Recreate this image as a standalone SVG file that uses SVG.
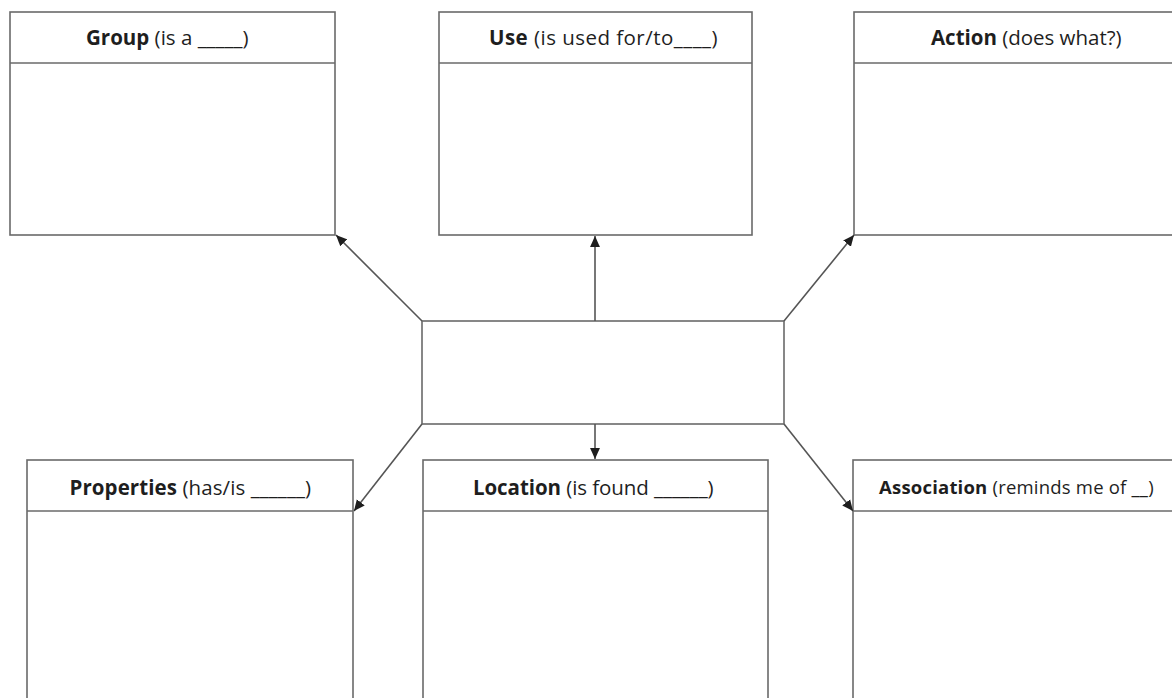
<svg xmlns="http://www.w3.org/2000/svg" width="1172" height="698" viewBox="0 0 1172 698">
<style>
.box{fill:#fff;stroke:#6a6a6a;stroke-width:1.6}
.div{stroke:#6a6a6a;stroke-width:1.6}
.lbl{font-family:"Open Sans","Liberation Sans",sans-serif;font-size:20.5px;fill:#1e1e1e;text-anchor:middle;letter-spacing:-0.6px}
.b{font-weight:700}
.conn{stroke:#555;stroke-width:1.6;fill:none;marker-end:url(#ah)}
</style>
<defs>
<marker id="ah" viewBox="0 0 10 10" refX="10" refY="5" markerWidth="11" markerHeight="11" markerUnits="userSpaceOnUse" orient="auto">
<path d="M0,0.5 L10,5 L0,9.5 z" fill="#1e1e1e"/>
</marker>
</defs>
<rect width="1172" height="698" fill="#fff"/>
<g id="group">
<rect class="box" x="10" y="12" width="325" height="223"/>
<line class="div" x1="10" y1="63" x2="335" y2="63"/>
<text class="lbl" x="167" y="45" textLength="162"><tspan class="b">Group</tspan> (is a _____)</text>
</g>
<g id="use">
<rect class="box" x="439" y="12" width="313" height="223"/>
<line class="div" x1="439" y1="63" x2="752" y2="63"/>
<text class="lbl" x="603" y="45" textLength="228"><tspan class="b">Use</tspan> (is used for/to____)</text>
</g>
<g id="action">
<rect class="box" x="854" y="12" width="330" height="223"/>
<line class="div" x1="854" y1="63" x2="1184" y2="63"/>
<text class="lbl" x="1026" y="45" textLength="190"><tspan class="b">Action</tspan> (does what?)</text>
</g>
<g id="center">
<rect class="box" x="422" y="321" width="362" height="103"/>
</g>
<g id="properties">
<rect class="box" x="27" y="460" width="326" height="260"/>
<line class="div" x1="27" y1="511" x2="353" y2="511"/>
<text class="lbl" x="190" y="495" textLength="241"><tspan class="b">Properties</tspan> (has/is ______)</text>
</g>
<g id="location">
<rect class="box" x="423" y="460" width="345" height="260"/>
<line class="div" x1="423" y1="511" x2="768" y2="511"/>
<text class="lbl" x="593" y="495" textLength="240"><tspan class="b">Location</tspan> (is found ______)</text>
</g>
<g id="association">
<rect class="box" x="853" y="460" width="330" height="260"/>
<line class="div" x1="853" y1="511" x2="1183" y2="511"/>
<text class="lbl" x="1016" y="494" style="font-size:18.5px" textLength="274"><tspan class="b">Association</tspan> (reminds me of __)</text>
</g>
<g id="connectors">
<line class="conn" x1="422" y1="321" x2="336" y2="235"/>
<line class="conn" x1="595" y1="321" x2="595" y2="236"/>
<line class="conn" x1="784" y1="321" x2="854" y2="235"/>
<line class="conn" x1="422" y1="424" x2="354" y2="511"/>
<line class="conn" x1="595" y1="424" x2="595" y2="459"/>
<line class="conn" x1="784" y1="424" x2="853" y2="511"/>
</g>
</svg>
